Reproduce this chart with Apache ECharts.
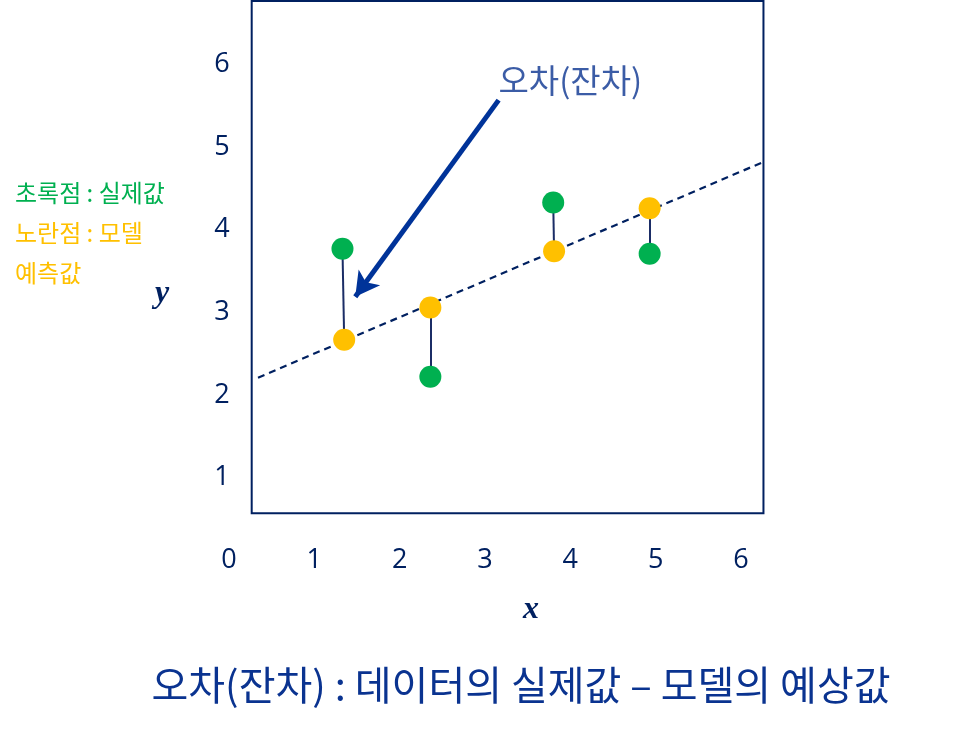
<!DOCTYPE html>
<html>
<head>
<meta charset="utf-8">
<script src="https://cdn.jsdelivr.net/npm/echarts@6/dist/echarts.min.js"></script>
<style>
html,body{margin:0;padding:0;background:#fff;}
#chart{width:961px;height:730px;}
</style>
</head>
<body>
<div id="chart"></div>
<script>
// ---- data ----
const xTicks = [0, 1, 2, 3, 4, 5, 6];
const yTicks = [1, 2, 3, 4, 5, 6];
const actualX = [1.33, 2.36, 3.80, 4.93];
const actualY = [3.77, 2.22, 4.33, 3.71];
const predX = [1.35, 2.36, 3.81, 4.93];
const predY = [2.67, 3.06, 3.74, 4.26];
const fitLineX = [0.34, 6.26];
const fitLineY = [2.21, 4.82];
const arrowFrom = [3.16, 5.57];
const arrowTo = [1.48, 3.19];
const calloutAt = [4.0, 5.81];
const calloutText = '오차(잔차)';
const titleText = '오차(잔차) : 데이터의 실제값 – 모델의 예상값';
const legendLines = [
  { text: '초록점 : 실제값', color: '#00b050' },
  { text: '노란점 : 모델', color: '#ffc000' },
  { text: '예측값', color: '#ffc000' }
];

const NAVY = '#002060';
const BLUE = '#0a3390';
const KFONT = '"Noto Sans CJK KR", "Noto Sans", sans-serif';
const NFONT = '"Open Sans", "Noto Sans", sans-serif';
const SERIF = 'italic bold 32px "Liberation Serif", "DejaVu Serif", serif';

const actualPts = actualX.map((x, i) => [x, actualY[i]]);
const predPts = predX.map((x, i) => [x, predY[i]]);
const residuals = actualX.map((x, i) => ({ coords: [[x, actualY[i]], [predX[i], predY[i]]] }));
const fitPts = fitLineX.map((x, i) => [x, fitLineY[i]]);

const chart = echarts.init(document.getElementById('chart'), null, { renderer: 'canvas' });

chart.setOption({
  animation: false,
  backgroundColor: '#fff',
  grid: { left: 229, top: 0, right: 190.2, bottom: 169.8, containLabel: false },
  xAxis: {
    type: 'value', min: 0, max: 6.35, interval: 1,
    axisLine: { show: false }, axisTick: { show: false }, splitLine: { show: false },
    axisLabel: {
      customValues: xTicks, margin: 0, verticalAlign: 'middle',
      color: NAVY, fontSize: 27, fontFamily: NFONT
    }
  },
  yAxis: {
    type: 'value', min: 0, max: 6.782, interval: 1,
    axisLine: { show: false }, axisTick: { show: false }, splitLine: { show: false },
    axisLabel: {
      customValues: yTicks, margin: 7, align: 'center',
      color: NAVY, fontSize: 27, fontFamily: NFONT
    }
  },
  graphic: [
    { type: 'text', left: 15, top: 181, style: { text: legendLines[0].text, fill: legendLines[0].color, font: '24px ' + KFONT } },
    { type: 'text', left: 15, top: 221, style: { text: legendLines[1].text, fill: legendLines[1].color, font: '24px ' + KFONT } },
    { type: 'text', left: 15, top: 261, style: { text: legendLines[2].text, fill: legendLines[2].color, font: '24px ' + KFONT } },
    { type: 'text', x: 162, y: 294, style: { text: 'y', fill: NAVY, font: SERIF, align: 'center', verticalAlign: 'middle' } },
    { type: 'text', x: 531, y: 610, style: { text: 'x', fill: NAVY, font: SERIF, align: 'center', verticalAlign: 'middle' } },
    { type: 'text', x: 521, y: 685, style: { text: titleText, fill: BLUE, font: '40px ' + KFONT, align: 'center', verticalAlign: 'middle' } }
  ],
  series: [
    {
      name: 'frame', type: 'scatter', data: [], clip: false, silent: true,
      markArea: {
        silent: true,
        itemStyle: { color: 'rgba(0,0,0,0)', borderColor: NAVY, borderWidth: 2 },
        data: [[{ coord: [0.266, 0.568] }, { coord: [6.264, 6.77] }]]
      }
    },
    {
      name: 'fit', type: 'line', data: fitPts, symbol: 'none', silent: true, z: 2,
      lineStyle: { color: NAVY, width: 2.2, type: [7, 5] }
    },
    {
      name: 'residual', type: 'lines', coordinateSystem: 'cartesian2d', data: residuals, silent: true, z: 3,
      lineStyle: { color: '#1b2d66', width: 2, opacity: 1 }
    },
    {
      name: '실제값', type: 'scatter', data: actualPts, symbolSize: 22, z: 4,
      itemStyle: { color: '#00b050', opacity: 1 }
    },
    {
      name: '예측값', type: 'scatter', data: predPts, symbolSize: 22, z: 4,
      itemStyle: { color: '#ffc000', opacity: 1 }
    },
    {
      name: 'callout', type: 'scatter', data: [calloutAt], symbolSize: 0, z: 5, silent: true, clip: false,
      label: { show: true, position: 'inside', formatter: calloutText, color: BLUE, fontSize: 33, fontFamily: KFONT },
      markLine: {
        silent: true, symbol: ['none', 'arrow'], symbolSize: [20, 24],
        lineStyle: { color: '#003399', width: 5, type: 'solid' },
        label: { show: false },
        data: [[{ coord: arrowFrom }, { coord: arrowTo }]]
      }
    }
  ]
});
</script>
</body>
</html>
